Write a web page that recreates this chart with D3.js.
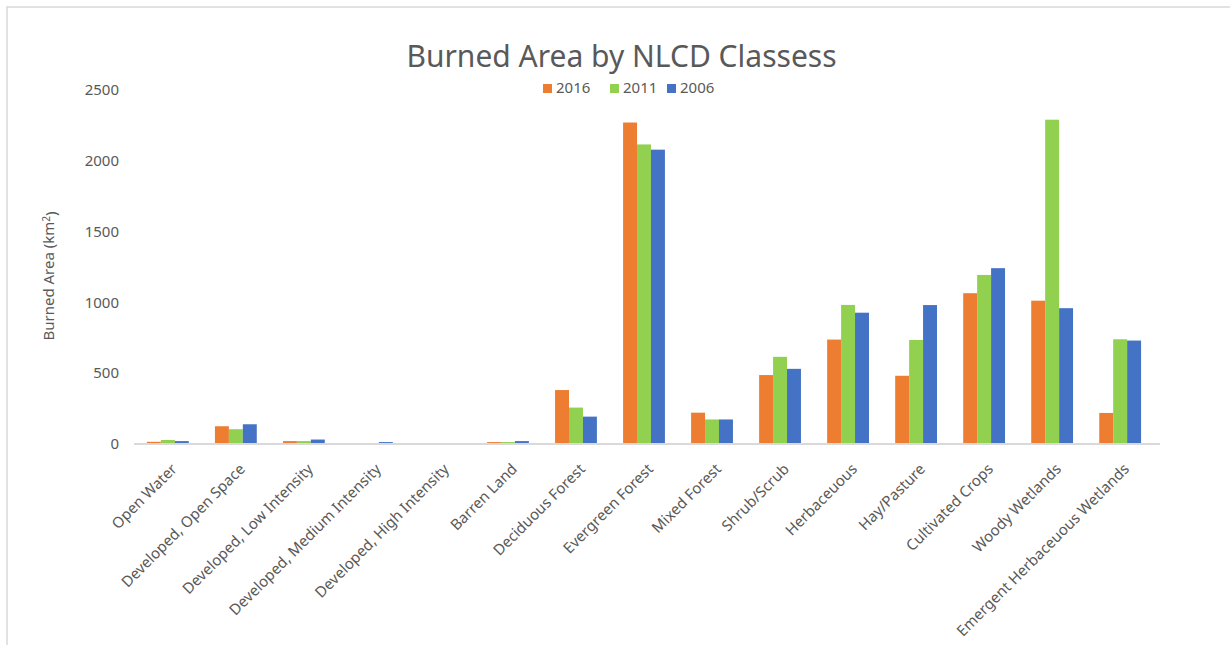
<!DOCTYPE html>
<html lang="en">
<head>
    <meta charset="UTF-8">
    <title>Burned Area by NLCD Classess</title>
    <script src="https://d3js.org/d3.v7.min.js"></script>
    <style>
        body { margin: 0; background: white; }
        text { font-family: "Noto Sans", sans-serif; fill: #595959; }
    </style>
</head>
<body>
<script>
    // data (km²)
    var classes = ["Open Water", "Developed, Open Space", "Developed, Low Intensity",
        "Developed, Medium Intensity", "Developed, High Intensity", "Barren Land",
        "Deciduous Forest", "Evergreen Forest", "Mixed Forest", "Shrub/Scrub",
        "Herbaceuous", "Hay/Pasture", "Cultivated Crops", "Woody Wetlands",
        "Emergent Herbaceuous Wetlands"];
    var years = ["2016", "2011", "2006"];
    var values2016 = [12, 122, 17, 1, 0, 10, 378, 2270, 218, 484, 735, 479, 1063, 1010, 216];
    var values2011 = [25, 101, 17, 1, 0, 10, 254, 2115, 170, 613, 980, 732, 1192, 2290, 737];
    var values2006 = [17, 136, 28, 10, 1, 17, 190, 2078, 170, 528, 925, 979, 1240, 957, 728];
    var yTicks = [0, 500, 1000, 1500, 2000, 2500];
    var colors = ["#ED7D31", "#92D050", "#4472C4"];

    var series = [values2016, values2011, values2006];
    var width = 1230, height = 645;
    var margin = {left: 134, right: 70, top: 90, bottom: 201};

    var svg = d3.select("body").append("svg")
        .attr("width", width)
        .attr("height", height);

    // chart frame
    svg.append("rect")
        .attr("x", 7).attr("y", 7)
        .attr("width", width + 20).attr("height", height + 20)
        .attr("fill", "none")
        .attr("stroke", "#d9d9d9")
        .attr("stroke-width", 1.5);

    var x0 = d3.scaleBand()
        .domain(classes)
        .range([margin.left, width - margin.right - 6])
        .paddingInner(0.385)
        .paddingOuter(0.19);
    var x1 = d3.scaleBand()
        .domain(years)
        .range([0, x0.bandwidth()]);
    var y = d3.scaleLinear()
        .domain([0, 2500])
        .range([height - margin.bottom - 0.5, margin.top]);

    // y tick labels
    svg.append("g").selectAll("text")
        .data(yTicks)
        .join("text")
        .attr("x", 119)
        .attr("y", function(d) { return y(d); })
        .attr("dy", "0.36em")
        .attr("text-anchor", "end")
        .style("font-size", "15px")
        .text(function(d) { return d; });

    // bars
    var groups = svg.append("g").selectAll("g")
        .data(classes)
        .join("g")
        .attr("transform", function(d) { return "translate(" + x0(d) + ",0)"; });

    groups.selectAll("rect")
        .data(function(d, i) { return years.map(function(yr, k) { return {year: yr, k: k, v: series[k][i]}; }); })
        .join("rect")
        .attr("x", function(d) { return x1(d.year); })
        .attr("width", x1.bandwidth())
        .attr("y", function(d) { return y(d.v); })
        .attr("height", function(d) { return y(0) - y(d.v); })
        .attr("fill", function(d) { return colors[d.k]; });

    // baseline
    svg.append("line")
        .attr("x1", margin.left).attr("x2", width - margin.right)
        .attr("y1", y(0) + 0.5).attr("y2", y(0) + 0.5)
        .attr("stroke", "#d9d9d9")
        .attr("stroke-width", 2);

    // rotated category labels
    svg.append("g").selectAll("text")
        .data(classes)
        .join("text")
        .attr("transform", function(d) {
            var cx = x0(d) + x0.bandwidth() / 2;
            return "translate(" + (cx + 10) + "," + 470 + ") rotate(-45)";
        })
        .attr("text-anchor", "end")
        .style("font-size", "15px")
        .text(function(d) { return d; });

    // axis title
    var yt = svg.append("text")
        .attr("transform", "translate(53.5,276) rotate(-90)")
        .attr("text-anchor", "middle")
        .style("font-size", "15px");
    yt.append("tspan").text("Burned Area (km");
    yt.append("tspan").attr("dy", "-0.4em").style("font-size", "10px").text("2");
    yt.append("tspan").attr("dy", "0.4em").text(")");

    // title
    svg.append("text")
        .attr("x", 621.5).attr("y", 67)
        .attr("text-anchor", "middle")
        .style("font-size", "30px")
        .text("Burned Area by NLCD Classess");

    // legend
    var legendX = [543, 610, 667];
    years.forEach(function(yr, k) {
        svg.append("rect")
            .attr("x", legendX[k]).attr("y", 84)
            .attr("width", 9).attr("height", 9)
            .attr("fill", colors[k]);
        svg.append("text")
            .attr("x", legendX[k] + 13).attr("y", 93)
            .style("font-size", "15px")
            .text(yr);
    });
</script>
</body>
</html>
